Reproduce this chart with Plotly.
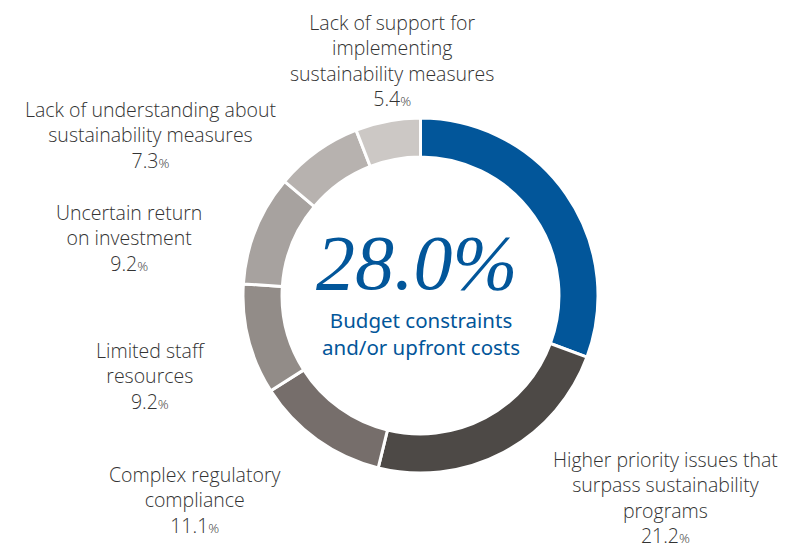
import plotly.graph_objects as go

categories = [
    "Budget constraints and/or upfront costs",
    "Higher priority issues that surpass sustainability programs",
    "Complex regulatory compliance",
    "Limited staff resources",
    "Uncertain return on investment",
    "Lack of understanding about sustainability measures",
    "Lack of support for implementing sustainability measures",
]
values = [28.0, 21.2, 11.1, 9.2, 9.2, 7.3, 5.4]
colors = ["#02569A", "#4D4946", "#766E6B", "#928C88", "#A7A29F", "#B7B2AF", "#CCC8C5"]

label_lines = [
    None,
    ["Higher priority issues that", "surpass sustainability", "programs"],
    ["Complex regulatory", "compliance"],
    ["Limited staff", "resources"],
    ["Uncertain return", "on investment"],
    ["Lack of understanding about", "sustainability measures"],
    ["Lack of support for", "implementing", "sustainability measures"],
]
# label block centers in reference pixels
label_pos = [None, (665, 497), (194, 499.5), (150, 375.5), (129, 237.5), (150, 134.5), (392, 60)]

# the page body adds an 8px offset; work in reference pixels and convert
OFF = 8
W, H = 794 - OFF, 550 - OFF


def px(x):
    return (x - OFF) / W


def py(y):
    return 1 - (y - OFF) / H


fig = go.Figure(go.Pie(
    labels=categories,
    values=values,
    hole=0.78,
    sort=False,
    direction="clockwise",
    rotation=0,
    marker=dict(colors=colors, line=dict(color="white", width=3)),
    textinfo="none",
    hoverinfo="label+value",
    domain=dict(x=[px(243), px(598)], y=[py(473), py(118)]),
    showlegend=False,
))

label_font = dict(family="Open Sans", size=19.5, color="#333333", weight=300)
annotations = []
for i, v in enumerate(values):
    if label_lines[i] is None:
        continue
    x, yc = label_pos[i]
    lines = label_lines[i] + [f"{v:.1f}<span style='font-size:13.5px'>%</span>"]
    annotations.append(dict(
        x=px(x), y=py(yc), xref="paper", yref="paper",
        xanchor="center", yanchor="middle", showarrow=False, align="center",
        text="<br>".join(lines), font=label_font,
    ))

annotations.append(dict(
    x=px(417), y=py(263), xref="paper", yref="paper",
    xanchor="center", yanchor="middle", showarrow=False,
    text=f"<i>{values[0]:.1f}%</i>",
    font=dict(family="Liberation Serif", size=78, color="#02569A"),
))
annotations.append(dict(
    x=px(421), y=py(333), xref="paper", yref="paper",
    xanchor="center", yanchor="middle", showarrow=False, align="center",
    text="Budget constraints<br>and/or upfront costs",
    font=dict(family="Noto Sans", size=20.5, color="#02569A"),
))

fig.update_layout(
    width=W, height=H,
    margin=dict(l=0, r=0, t=0, b=0),
    paper_bgcolor="white", plot_bgcolor="white",
    annotations=annotations,
)
fig.write_html("out.html")
